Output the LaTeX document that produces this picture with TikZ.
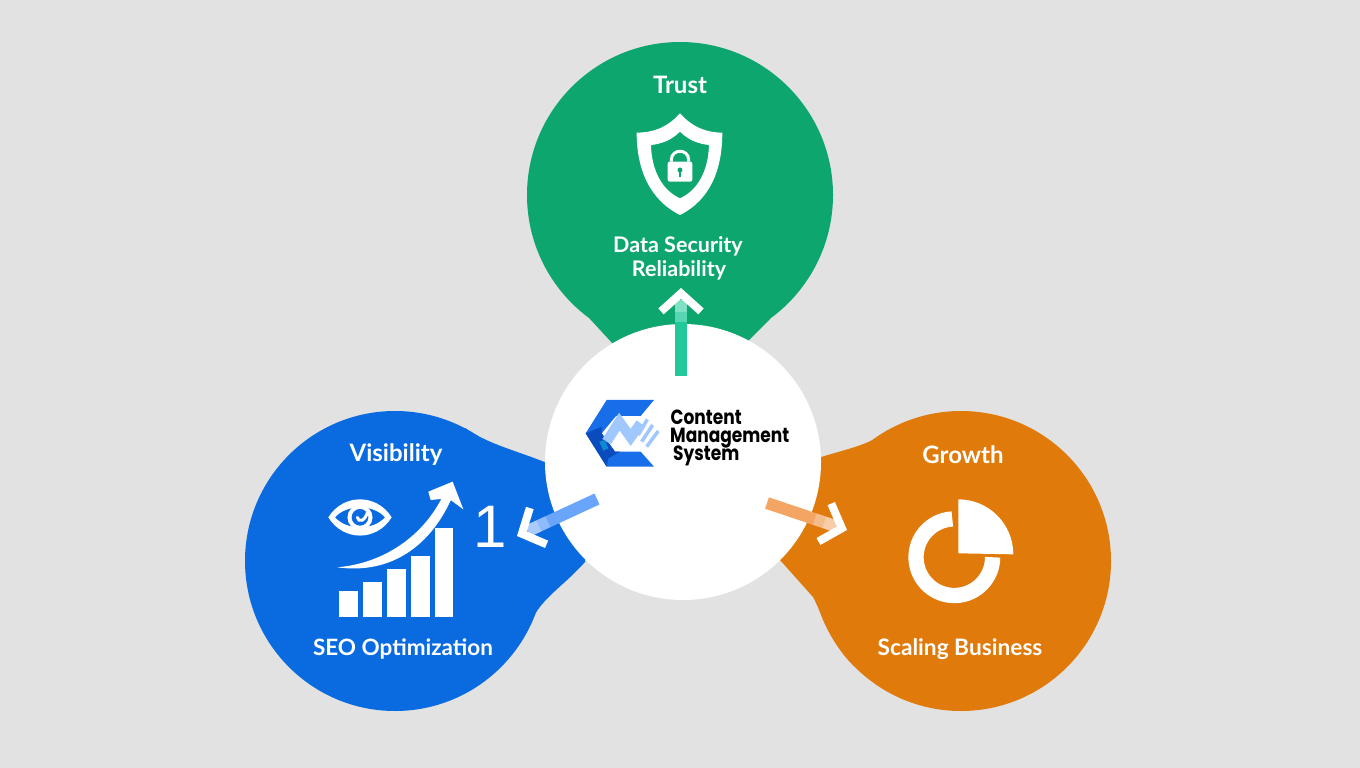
\documentclass[tikz,border=0pt]{standalone}
\usepackage{fontspec}
\usepackage{xcolor}
\usepackage{tikz}
\usetikzlibrary{arrows.meta, calc}
\setmainfont{Lato}
\newfontfamily\logofont{Poppins}
\newfontfamily\plainfont{Liberation Sans}
\definecolor{pagebg}{RGB}{226,226,226}
\definecolor{trustgreen}{RGB}{12,166,110}
\definecolor{seoblue}{RGB}{10,107,224}
\definecolor{growthorange}{RGB}{224,122,10}
\definecolor{trustband}{RGB}{32,201,151}
\definecolor{seoband}{RGB}{105,165,250}
\definecolor{growthband}{RGB}{244,165,100}
\definecolor{logoblue}{RGB}{24,110,232}
\definecolor{logodark}{RGB}{10,75,190}
\definecolor{logolight}{RGB}{160,200,255}
\tikzset{
  hub/.style={circle, draw=none, fill=white, inner sep=0pt, minimum size=276pt},
  lobe/.style={circle, draw=none, inner sep=0pt, minimum size=300pt},
  title/.style={text=white, font=\fontsize{24}{24}\selectfont\bfseries},
  caption/.style={text=white, font=\fontsize{21.5}{24}\selectfont\bfseries},
  logotext/.style={anchor=base west, inner sep=0pt, xscale=0.83, transform shape, font=\fontsize{20.5}{20}\logofont\bfseries},
  flow/.style={line width=12pt, -{Straight Barb[white, length=18pt, width=40pt, line width=8pt, line cap=butt]}},
  fadeband/.style={line width=12pt, white, opacity=0.25},
  icon/.style={fill=white, draw=none},
  zoomed/.style={x=0.3333pt, y=-0.3333pt},
}
\begin{document}
\begin{tikzpicture}[x=1pt, y=-1pt]
  \useasboundingbox (0,0) rectangle (1360,768);
  \fill[pagebg] (0,0) rectangle (1360,768);

  % the three lobes, each with its neck towards the hub
  \fill[trustgreen] (590,319) -- (613,344) -- (747,342) -- (770,319) -- cycle;
  \fill[seoblue] (465,428) .. controls (490,445) and (515,450) .. (547,463) -- (590,520) -- (585,562)
    .. controls (560,590) and (537,600) .. (528,630) -- (440,600) -- cycle;
  \fill[growthorange] (888,430) .. controls (870,445) and (850,448) .. (818,458) -- (775,520) -- (780,560)
    -- (813,597) .. controls (825,620) and (832,645) .. (854,666) -- (930,600) -- cycle;
  \node[lobe, fill=trustgreen, minimum size=306pt] (trust) at (680,195) {};
  \node[lobe, fill=seoblue] (seo) at (395,561) {};
  \node[lobe, fill=growthorange] (growth) at (961,561) {};
  \node[hub] (cms) at (683,462) {};

  \node[title] (trusttitle) at (680,85) {Trust};
  \node[caption] (security) at (678,246) {Data Security};
  \node[caption] (reliability) at (679,270) {Reliability};
  \node[title] (seotitle) at (396,455) {Visibility};
  \node[caption, font=\fontsize{22.5}{24}\selectfont\bfseries] (optimization) at (403,649) {SEO Optimization};
  \node[title] (growthtitle) at (963,455) {Growth};
  \node[caption, font=\fontsize{22.7}{24}\selectfont\bfseries] (scaling) at (960,649) {Scaling Business};
  \node[text=white, font=\fontsize{60}{60}\plainfont] (one) at (490,527) {1};

  % shield
  \begin{scope}[shift={(590,60)}, zoomed]
    \fill[icon, even odd rule] (270,160) .. controls (310,205) and (355,218) .. (397,218)
      .. controls (397,330) and (360,420) .. (270,465) .. controls (180,420) and (140,330) .. (140,218)
      .. controls (185,218) and (230,205) .. (270,160) -- cycle
      (270,215) .. controls (295,240) and (325,252) .. (357,255)
      .. controls (355,330) and (325,390) .. (270,415) .. controls (215,390) and (185,330) .. (183,255)
      .. controls (215,252) and (245,240) .. (270,215) -- cycle;
    \fill[icon, rounded corners=2pt] (233,305) rectangle (307,365);
    \draw[white, line width=3pt] (244,305) -- (244,300) .. controls (244,265) and (296,265) .. (296,300) -- (296,305);
    \fill[trustgreen] (270,330) circle[radius=2.5pt];
    \fill[trustgreen] (267,330) rectangle (273,350);
  \end{scope}

  % eye, bars and rising arrow
  \begin{scope}[shift={(300,430)}, zoomed]
    \fill[icon, even odd rule] (85,262) .. controls (130,190) and (230,190) .. (275,262)
      .. controls (230,335) and (130,335) .. (85,262) -- cycle
      (105,262) .. controls (140,222) and (220,222) .. (255,262)
      .. controls (220,302) and (140,302) .. (105,262) -- cycle;
    \draw[white, line width=4pt] (180,262) circle[radius=10.5pt];
    \draw[white, line width=3pt, line cap=round] (172,262) .. controls (175,278) and (195,275) .. (203,245);
    \fill[icon] (117,484) rectangle (173,560);
    \fill[icon] (189,456) rectangle (245,560);
    \fill[icon] (260,417) rectangle (317,560);
    \fill[icon] (332,377) rectangle (389,560);
    \fill[icon] (404,293) rectangle (460,560);
    \fill[icon] (112,412) .. controls (280,435) and (395,340) .. (455,205)
      -- (430,195) .. controls (370,320) and (250,400) .. (112,412) -- cycle;
    \fill[icon] (458,155) -- (490,238) -- (445,205) -- (392,210) -- (385,185) -- cycle;
  \end{scope}

  % pie chart
  \begin{scope}[shift={(760,430)}, zoomed]
    \draw[white, line width=15.3pt] (577,267) arc[start angle=93, end angle=360, radius=38.3pt];
    \fill[icon] (595,370) -- (595,208) arc[start angle=90, end angle=0, radius=55pt] -- cycle;
  \end{scope}

  % logo
  \begin{scope}[shift={(540,320)}, zoomed]
    \fill[logoblue] (200,240) -- (342,240) -- (302,288) -- (228,288) -- (185,340) -- (225,395)
      -- (302,395) -- (342,440) -- (200,440) -- (137,340) -- cycle;
    \fill[logodark] (137,340) -- (185,320) -- (185,340) -- (225,395) -- (240,395) -- (205,415) -- (200,440) -- cycle;
    \draw[logolight, line width=10pt, line join=miter] (200,365) -- (238,305) -- (272,352) -- (302,310);
    \fill[cyan!70!blue] (178,365) -- (195,360) -- (205,385) -- (190,392) -- cycle;
    \draw[logolight, line width=3.5pt] (322,298) -- (295,345);
    \draw[logolight, line width=3.5pt] (338,315) -- (305,365);
    \draw[logolight, line width=3.5pt] (355,333) -- (320,380);
  \end{scope}
  \node[logotext] (content) at (670.5,424) {Content};
  \node[logotext] (management) at (670,442) {Management};
  \node[logotext] (system) at (673,460) {System};

  % connectors
  \coordinate (trustfoot) at (681,376);
  \coordinate (trusttip) at (681,288);
  \coordinate (seofoot) at (597,499);
  \coordinate (seotip) at (517,536);
  \coordinate (growthfoot) at (767,503);
  \coordinate (growthtip) at (847,530);
  \foreach \lobename/\bandcol in {trust/trustband, seo/seoband, growth/growthband} {
    \draw[flow, draw=\bandcol] (\lobename foot) -- (\lobename tip);
    \draw[fadeband] ($(\lobename tip)!12pt!(\lobename foot)$) -- ($(\lobename tip)!24pt!(\lobename foot)$);
    \draw[fadeband] ($(\lobename tip)!12pt!(\lobename foot)$) -- ($(\lobename tip)!34pt!(\lobename foot)$);
  }
\end{tikzpicture}
\end{document}
